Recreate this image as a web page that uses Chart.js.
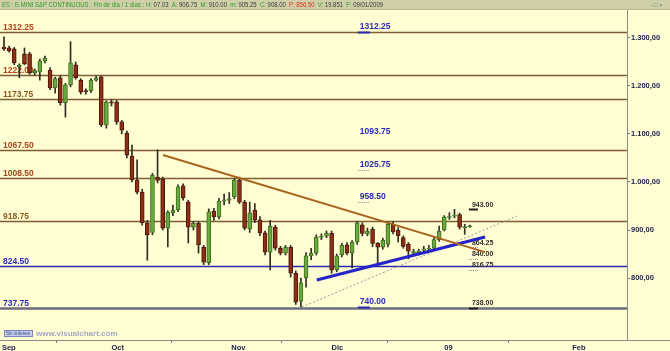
<!DOCTYPE html>
<html>
<head>
<meta charset="utf-8">
<script src="https://cdn.jsdelivr.net/npm/chart.js@4/dist/chart.umd.min.js"></script>
<style>
  html, body { margin: 0; padding: 0; background: #fffdd2; }
  canvas { display: block; }
</style>
</head>
<body>
<canvas id="chart" width="670" height="351"></canvas>
<script>
// daily candles, Sep 2008 - 9 Jan 2009
let open = [
  1281, 1279, 1277, 1240, 1267, 1267, 1227, 1229, 1252, 1233, 1196, 1217, 1165, 1202, 1244, 1212, 1190, 1190, 1212, 1219, 1119,
  1167, 1167, 1125, 1102, 1054, 1004, 979, 915, 895, 1010, 1006, 904, 936, 942, 992, 958, 906, 914, 864, 832, 939, 927, 960, 962,
  969, 1004, 958, 902, 941, 921, 894, 854, 906, 862, 852, 864, 810, 752, 800, 846, 852, 885, 887,
  893, 817, 848, 869, 852, 875, 911, 892, 902, 872, 864, 870, 912, 900, 884, 870, 851, 853, 858, 860, 862, 880,
  900, 926, 929, 932, 905, 906.75
];
let high = [
  1302, 1283, 1280, 1246, 1279, 1270, 1235, 1256, 1262, 1238, 1218, 1221, 1205, 1292, 1250, 1215, 1194, 1215, 1220, 1221, 1169,
  1172, 1170, 1128, 1106, 1077, 1046, 985, 920, 1018, 1067, 1010, 940, 952, 994, 996, 962, 918, 918, 868, 944, 945, 966, 975, 978,
  1007, 1010, 962, 958, 955, 928, 898, 920, 910, 866, 868, 868, 815, 800, 853, 862, 890, 892, 898,
  898, 850, 872, 874, 878, 918, 915, 904, 906, 874, 883, 916, 918, 905, 888, 874, 860, 860, 866, 868, 884, 908,
  930, 936, 943, 935, 912, 910
];
let low = [
  1274, 1270, 1244, 1217, 1244, 1224, 1222, 1212, 1248, 1192, 1185, 1160, 1135, 1198, 1214, 1183, 1183, 1186, 1210, 1115, 1112,
  1158, 1120, 1100, 1050, 1000, 975, 910, 837, 890, 998, 900, 865, 930, 938, 962, 873, 900, 852, 828, 828, 920, 923, 952, 955,
  965, 955, 900, 895, 915, 888, 848, 817, 858, 848, 848, 802, 745, 740, 781, 838, 848, 880, 884,
  810, 813, 844, 848, 821, 870, 888, 888, 865, 830, 860, 865, 892, 875, 862, 840, 847, 848, 855, 857, 860, 876,
  898, 922, 925, 902, 891, 905.25
];
let close = [
  1277, 1273, 1248, 1243, 1246, 1227, 1232, 1252, 1258, 1196, 1215, 1165, 1202, 1248, 1217, 1187, 1188, 1212, 1217, 1119, 1167,
  1164, 1125, 1108, 1056, 1004, 979, 915, 890, 1014, 1003, 904, 937, 941, 990, 967, 906, 914, 869, 833, 938, 927, 960, 963, 965,
  1004, 958, 904, 936, 921, 894, 854, 908, 862, 852, 864, 810, 750, 790, 846, 852, 885, 887, 893,
  817, 846, 868, 852, 875, 915, 893, 898, 872, 864, 879, 912, 896, 888, 866, 856, 855, 856, 861, 862, 880, 898,
  927, 928, 931, 906, 907, 908
];

// month ticks on the time axis (candle index where the month starts)
let monthAt = [-0.4, 21, 44.4, 64, 86, 111];
let monthNames = ["Sep", "Oct", "Nov", "Dic", "09", "Feb"];

// price axis
let priceTicks = [800, 900, 1000, 1100, 1200, 1300];

// horizontal support / resistance levels
let levels = [1312.25, 1222.00, 1173.75, 1067.50, 1008.50, 918.75, 824.50, 737.75];
// price notes written in the middle and to the right of the candles
let midNotes = [1312.25, 1093.75, 1025.75, 958.50, 740.00];
let rightNotes = [943.00, 864.25, 840.00, 816.75, 738.00];

// trend lines (candle index, price)
let downX = [31.06, 93.97], downY = [1056, 854];
let upX = [61.1, 93.97], upY = [796, 885.4];
let dotX = [58.2, 100.2], dotY = [739.6, 929.1];

const levelLine = ["#7e5e32", "#7e5e32", "#7e5e32", "#7e5e32", "#7e5e32", "#7e5e32", "#2a2ab4", "#6c6c80"];
const levelWidth = [1.5, 1.5, 1.5, 1.5, 1.5, 1.5, 1.5, 2.5];
const levelText = ["#b4441c", "#b4441c", "#8a5420", "#a8441c", "#a8441c", "#8a5a22", "#2a2ab4", "#2a2ab4"];
const midMark = ["bar", "", "dot", "dot", "bar"];
const rightMark = ["bar", "dot", "dot", "dot", "bar"];

const idx = open.map((_, i) => i);
const isUp = i => close[i] >= open[i];

function fmtPrice(v) {
  const s = Math.floor(v).toString().replace(/\B(?=(\d{3})+$)/g, ".");
  return s + "," + (v % 1).toFixed(2).slice(2);
}

const paper = {
  id: "paper",
  beforeDraw(chart) {
    const c = chart.ctx;
    c.save();
    c.fillStyle = "#fffdd2";
    c.fillRect(0, 0, chart.width, chart.height);
    // header bar
    c.fillStyle = "#d0d0a8";
    c.fillRect(0, 0, chart.width, 9);
    c.fillStyle = "#b8b890";
    c.fillRect(0, 9, chart.width, 1);
    const G = "#2e9a2e", K = "#3a3a3a", R = "#e0301c";
    const hdr = [
      ["ES : E-MINI S&P CONTINUOUS : Fin de día / 1 días : ", G],
      ["H: ", G], ["07.03  ", K], ["A: ", G], ["906.75  ", K],
      ["M: ", G], ["910.00  ", K], ["m: ", G], ["905.25  ", K],
      ["C: ", G], ["908.00  ", K], ["P: ", R], ["856.50  ", R],
      ["V: ", G], ["19.851  ", K], ["F: ", G], ["09/01/2009", K]
    ];
    c.font = "7px Arial";
    c.textBaseline = "middle";
    const total = hdr.reduce((s, h) => s + c.measureText(h[0]).width, 0);
    c.translate(2, 0);
    c.scale(381 / total, 1);
    let px = 0;
    hdr.forEach(h => {
      c.fillStyle = h[1];
      c.fillText(h[0], px, 5);
      px += c.measureText(h[0]).width;
    });
    c.restore();
    c.save();
    c.fillStyle = "#777";
    c.font = "6px Arial";
    c.textBaseline = "middle";
    c.fillText("- □ ×", 650, 5);
    c.restore();
  },
  beforeDatasetsDraw(chart) {
    const c = chart.ctx, a = chart.chartArea, y = chart.scales.y, x = chart.scales.x;
    c.save();
    levels.forEach((v, k) => {
      const py = Math.round(y.getPixelForValue(v)) + 0.5;
      c.strokeStyle = levelLine[k];
      c.lineWidth = levelWidth[k];
      c.beginPath();
      c.moveTo(a.left, py);
      c.lineTo(a.right, py);
      c.stroke();
      c.fillStyle = levelText[k];
      c.font = "bold 8.5px Arial";
      c.textBaseline = "bottom";
      c.fillText(v.toFixed(2), a.left + 3, py - 1);
    });
    // note markers and labels
    const midX = x.getPixelForValue(69.5), rightX = x.getPixelForValue(91.4);
    midNotes.forEach((v, k) => {
      const py = y.getPixelForValue(v);
      drawMark(c, midMark[k], midX - 2, py, 12, "#2a2ab4");
      c.fillStyle = "#2a2ab4";
      c.font = "bold 8.5px Arial";
      c.textBaseline = "bottom";
      c.fillText(v.toFixed(2), midX, py - 1);
    });
    rightNotes.forEach((v, k) => {
      const py = y.getPixelForValue(v);
      drawMark(c, rightMark[k], rightX - 3, py, 9, "#202020");
      c.fillStyle = "#303030";
      c.font = "bold 7px Arial";
      c.textBaseline = "bottom";
      c.fillText(v.toFixed(2), rightX, py - 1);
    });
    c.restore();
  },
  afterDraw(chart) {
    const c = chart.ctx, a = chart.chartArea;
    c.save();
    // axis frame continues under the price scale
    c.strokeStyle = "#8c8c8c";
    c.lineWidth = 1;
    c.beginPath();
    c.moveTo(a.right, a.bottom + 0.5);
    c.lineTo(chart.width, a.bottom + 0.5);
    c.stroke();
    // watermark
    c.fillStyle = "#c8d0ea";
    c.fillRect(4, a.bottom - 10, 29, 7);
    c.strokeStyle = "#7a86b8";
    c.strokeRect(4.5, a.bottom - 9.5, 28, 6);
    c.fillStyle = "#3a4a90";
    c.font = "4.5px Arial";
    c.textBaseline = "middle";
    c.fillText("Sin órdenes", 6, a.bottom - 6.5, 25);
    c.fillStyle = "#a2a9c8";
    c.font = "bold 8px Arial";
    c.fillText("www.visualchart.com", 36, a.bottom - 6.5);
    c.restore();
  }
};

function drawMark(c, kind, x0, py, w, color) {
  if (!kind) return;
  c.save();
  c.strokeStyle = kind === "bar" ? color : "#8a8a8a";
  c.lineWidth = kind === "bar" ? 2 : 1;
  if (kind === "dot") c.setLineDash([1, 1]);
  c.beginPath();
  c.moveTo(x0, Math.round(py) + 0.5);
  c.lineTo(x0 + w, Math.round(py) + 0.5);
  c.stroke();
  c.restore();
}

const line = (xs, ys, color, width, dash) => ({
  type: "line",
  data: xs.map((v, k) => ({ x: v, y: ys[k] })),
  borderColor: color,
  borderWidth: width,
  borderDash: dash || [],
  pointRadius: 0,
  fill: false,
  order: 0
});

new Chart(document.getElementById("chart"), {
  type: "bar",
  data: {
    datasets: [
      line(downX, downY, "#a8641e", 2),
      line(upX, upY, "#2424c8", 3),
      line(dotX, dotY, "#9a9a9a", 1, [2, 2]),
      {
        data: idx.map(i => ({ x: i, y: [open[i], close[i]] })),
        backgroundColor: idx.map(i => isUp(i) ? "#68aa3c" : "#8e2e14"),
        borderColor: idx.map(i => isUp(i) ? "#3e6e22" : "#4c170a"),
        borderWidth: 1,
        borderSkipped: false,
        barThickness: 4,
        minBarLength: 1,
        grouped: false,
        order: 1
      },
      {
        data: idx.map(i => ({ x: i, y: [low[i], high[i]] })),
        backgroundColor: "#2e2e22",
        barThickness: 1,
        grouped: false,
        order: 2
      }
    ]
  },
  options: {
    responsive: false,
    animation: false,
    events: [],
    layout: { padding: { top: 10, left: 0, right: 0, bottom: 0 } },
    plugins: { legend: { display: false }, tooltip: { enabled: false } },
    scales: {
      x: {
        type: "linear",
        min: -0.78,
        max: 121.7,
        offset: false,
        grid: { drawOnChartArea: false, tickLength: 3, color: "#777" },
        border: { color: "#8c8c8c" },
        ticks: {
          align: "start",
          padding: 0,
          maxRotation: 0,
          autoSkip: false,
          color: "#1e1e4e",
          font: { family: "Arial", size: 7.5, weight: "bold" },
          callback: (v, k) => monthNames[k]
        },
        afterBuildTicks: s => { s.ticks = monthAt.map(v => ({ value: v })); },
        afterFit: s => { s.height = 11; }
      },
      y: {
        position: "right",
        min: 671,
        max: 1358,
        grid: { drawOnChartArea: false, tickLength: 3, color: "#777" },
        border: { color: "#8c8c8c" },
        ticks: {
          padding: 1,
          color: "#1e1e4e",
          font: { family: "Arial", size: 7.5, weight: "bold" },
          callback: v => fmtPrice(v)
        },
        afterBuildTicks: s => { s.ticks = priceTicks.map(v => ({ value: v })); },
        afterFit: s => { s.width = 43; }
      }
    }
  },
  plugins: [paper]
});
</script>
</body>
</html>
